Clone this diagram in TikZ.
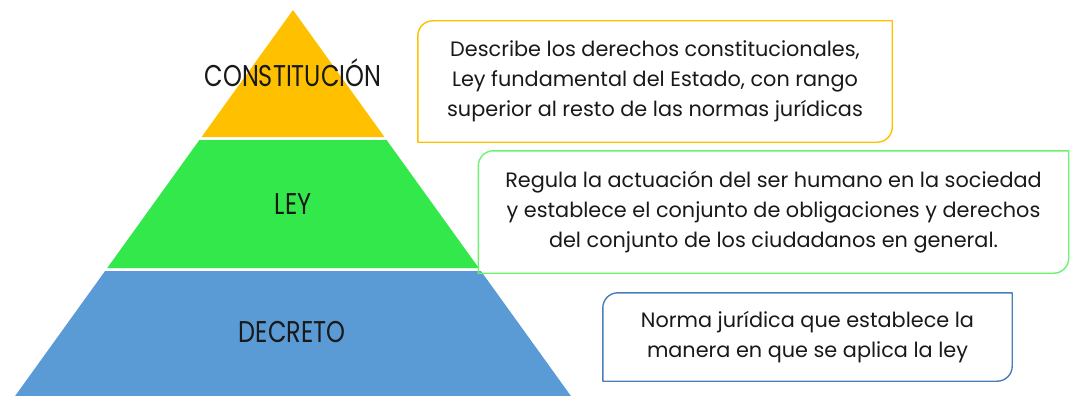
\documentclass[tikz,border=0pt]{standalone}
\usepackage{fontspec}
\setmainfont{Poppins}
\newfontfamily\labelfont[FakeStretch=0.8]{Poppins}
\definecolor{constfill}{HTML}{FFC000}
\definecolor{leyfill}{HTML}{33E84A}
\definecolor{decrfill}{HTML}{5B9BD5}
\definecolor{constline}{HTML}{FFC000}
\definecolor{leyline}{HTML}{6CF26C}
\definecolor{decrline}{HTML}{4A7EBB}
\tikzset{
  level/.style={font=\labelfont\fontsize{30}{32}\selectfont, text=black!90},
  desc/.style={align=center, inner sep=0pt, font=\fontsize{20.8}{30}\selectfont, text=black!90},
}
\newcommand\diagframe[2]{\draw[#2,line width=1.4pt] (#1.west) [rounded corners=15pt] |- (#1.north) [sharp corners] -| (#1.east) [rounded corners=15pt] |- (#1.south) [sharp corners] -| (#1.west) -- cycle;}
\begin{document}
\begin{tikzpicture}[x=1pt,y=-1pt,line join=round]
	\def\ax{293} \def\ay{10} \def\k{0.72}
	\useasboundingbox (0,0) rectangle (1071,396);
	\fill[constfill] (\ax,\ay) -- ({\ax+\k*(137-\ay)},137) -- ({\ax-\k*(137-\ay)},137) -- cycle;
	\fill[leyfill] ({\ax-\k*(140-\ay)},140) -- ({\ax+\k*(140-\ay)},140) -- ({\ax+\k*(268-\ay)},268) -- ({\ax-\k*(268-\ay)},268) -- cycle;
	\fill[decrfill] ({\ax-\k*(271-\ay)},271) -- ({\ax+\k*(271-\ay)},271) -- ({\ax+\k*(396-\ay)},396) -- ({\ax-\k*(396-\ay)},396) -- cycle;
	\node[level] (const) at (293,73) {CONSTITUCIÓN};
	\node[level] (ley) at (293,204) {LEY};
	\node[level] (decr) at (292,332) {DECRETO};
	\node[desc, minimum width=474pt, minimum height=121pt] (constdesc) at (655,81.5)
		{Describe los derechos constitucionales,\\Ley fundamental del Estado, con rango\\superior al resto de las normas jurídicas};
	\node[desc, minimum width=590pt, minimum height=122pt] (leydesc) at (773.5,212)
		{Regula la actuación del ser humano en la sociedad\\y establece el conjunto de obligaciones y derechos\\del conjunto de los ciudadanos en general.};
	\node[desc, minimum width=409pt, minimum height=88pt] (decrdesc) at (807.5,337)
		{Norma jurídica que establece la\\manera en que se aplica la ley};
	\diagframe{constdesc}{constline}
	\diagframe{leydesc}{leyline}
	\diagframe{decrdesc}{decrline}
\end{tikzpicture}
\end{document}
